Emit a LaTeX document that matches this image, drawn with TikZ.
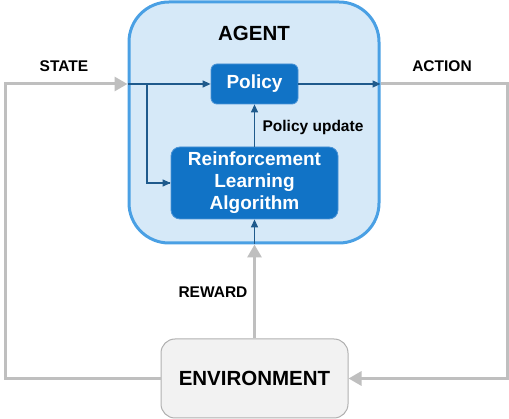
\documentclass[tikz,border=0pt]{standalone}
\usepackage{fontspec}
\setmainfont{Liberation Sans}
\usetikzlibrary{arrows.meta,positioning}
\definecolor{agentfill}{HTML}{D6E9F8}
\definecolor{agentdraw}{HTML}{4AA0E4}
\definecolor{boxfill}{HTML}{1173C6}
\definecolor{boxdraw}{HTML}{4A93D6}
\definecolor{darkline}{HTML}{1F5A8C}
\definecolor{grayline}{HTML}{BFBFBF}
\definecolor{envfill}{HTML}{F2F2F2}
\definecolor{envdraw}{HTML}{B0B0B0}
\begin{document}
\begin{tikzpicture}[x=1pt,y=-1pt,
  agentbox/.style={draw=agentdraw,fill=agentfill,line width=3pt,rounded corners=40pt,inner sep=0pt},
  bluebox/.style={draw=boxdraw,fill=boxfill,line width=0.8pt,rounded corners=6pt,inner sep=0pt,
     text=white,font=\fontsize{19}{22}\selectfont\bfseries,align=center},
  envbox/.style={draw=envdraw,fill=envfill,line width=1pt,rounded corners=14pt,inner sep=0pt,
     font=\fontsize{20.5}{22}\selectfont\bfseries},
  lbl/.style={font=\fontsize{15.5}{18}\selectfont\bfseries,inner sep=0pt},
  gline/.style={draw=grayline,line width=3pt},
  garrow/.style={gline,-{Triangle[length=13pt,width=14pt]}},
  barrow/.style={draw=darkline,line width=1.2pt,-{Triangle[length=8pt,width=7pt]}},
  bline/.style={draw=darkline,line width=1.2pt}]
\useasboundingbox (0,0) rectangle (509,419);
% agent
\node[agentbox,minimum width=250pt,minimum height=241pt] (agent) at (254,122.5) {};
\node[font=\fontsize{20.5}{22}\selectfont\bfseries,inner sep=0pt] (agenttxt) at (254,33) {AGENT};
\node[bluebox,minimum width=87pt,minimum height=40pt] (policy) at (254.5,84) {Policy};
\node[bluebox,rounded corners=9pt,minimum width=167pt,minimum height=72pt] (rl) at (254.5,183) {Reinforcement\\Learning\\Algorithm};
\node[envbox,minimum width=187pt,minimum height=79pt] (env) at (254.5,378.5) {ENVIRONMENT};
% labels
\node[lbl] (state) at (64,66) {STATE};
\node[lbl] (action) at (442,66) {ACTION};
\node[lbl] (pupd) at (313,127) {Policy update};
\node[lbl] (reward) at (213,292) {REWARD};
% coordinates
\coordinate (sl) at (5,84);
\coordinate (stin) at (agent.west |- policy.west);
\coordinate (br) at (147,84);
\coordinate (acout) at (agent.east |- policy.east);
\coordinate (ar) at (507,378.5);
\coordinate (rwin) at (env.north |- agent.south);
% state
\draw[garrow] (env.west) -| (sl) -- (stin);
\draw[barrow] (stin) -- (policy.west);
\draw[bline] (br) |- ([xshift=-1pt]rl.west);
\draw[barrow] ([xshift=-8pt]rl.west) -- (rl.west);
% action
\draw[barrow] (policy.east) -- (acout);
\draw[garrow] (acout) -| (ar) -- (env.east);
% reward
\draw[garrow] (env.north) -- (rwin);
\draw[barrow] (rwin) -- (rl.south);
% policy update
\draw[barrow] (rl.north) -- (policy.south);
\end{tikzpicture}
\end{document}
